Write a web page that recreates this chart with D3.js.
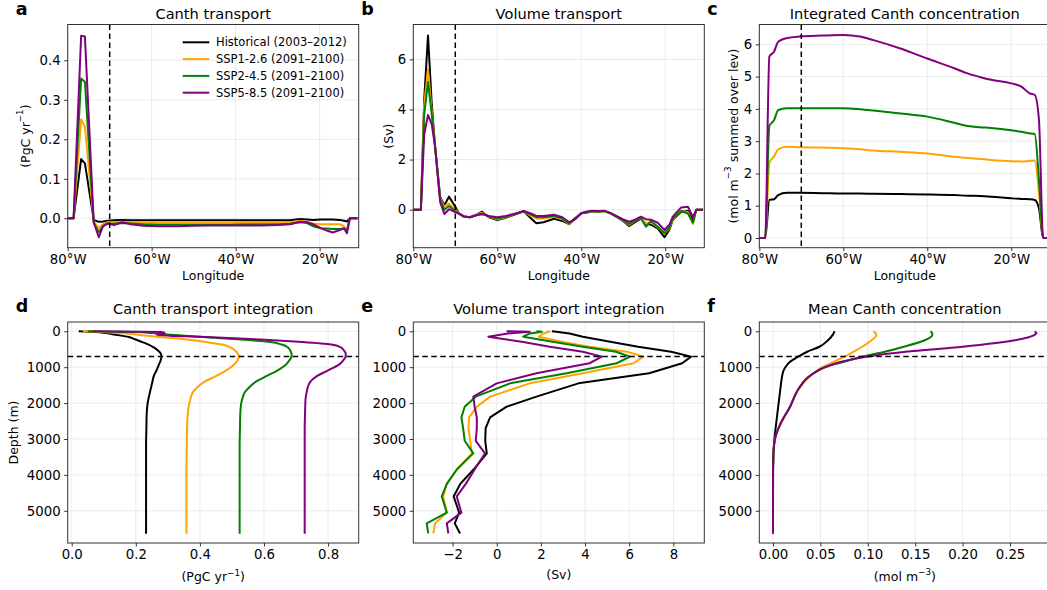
<!DOCTYPE html>
<html>
<head>
<meta charset="utf-8">
<script src="https://cdn.jsdelivr.net/npm/d3@7"></script>
<style>
  body { margin: 0; background: #fff; }
  text { font-family: "DejaVu Sans", sans-serif; }
</style>
</head>
<body>
<svg id="fig" width="1047" height="590"></svg>
<script>
// scenario names (legend)
const scenarios = ["Historical (2003–2012)", "SSP1-2.6 (2091–2100)", "SSP2-4.5 (2091–2100)", "SSP5-8.5 (2091–2100)"];

// a: Canth transport along the section (PgC/yr)
const lonA = [-80, -79, -78.6, -76.8, -75.9, -73.8, -72.6, -71.6, -70.5, -69, -67, -65, -62, -58, -54, -50, -46, -42, -38, -34, -30, -27, -24.7, -23, -21.6, -19.7, -18.3, -16.9, -15.2, -14.2, -13.5, -12.8, -11];
const canthHist = [0, 0, 0, 0.15, 0.139, -0.004, -0.009, -0.008, -0.006, -0.005, -0.004, -0.005, -0.005, -0.005, -0.005, -0.005, -0.005, -0.005, -0.005, -0.005, -0.005, -0.005, -0.002, -0.003, -0.004, -0.003, -0.003, -0.003, -0.004, -0.006, -0.008, 0, 0];
const canth126 = [0, 0, 0, 0.251, 0.232, -0.008, -0.025, -0.015, -0.01, -0.01, -0.009, -0.01, -0.011, -0.011, -0.011, -0.011, -0.011, -0.011, -0.01, -0.01, -0.01, -0.01, -0.006, -0.009, -0.013, -0.015, -0.015, -0.015, -0.015, -0.02, -0.033, 0, 0];
const canth245 = [0, 0, 0, 0.354, 0.345, -0.012, -0.035, -0.02, -0.014, -0.014, -0.012, -0.013, -0.015, -0.016, -0.016, -0.016, -0.016, -0.016, -0.015, -0.015, -0.015, -0.014, -0.01, -0.012, -0.02, -0.025, -0.026, -0.027, -0.027, -0.026, -0.03, 0, 0];
const canth585 = [0, 0, 0, 0.462, 0.46, -0.01, -0.048, -0.02, -0.013, -0.017, -0.01, -0.015, -0.019, -0.02, -0.02, -0.019, -0.018, -0.018, -0.018, -0.018, -0.017, -0.015, -0.0085, -0.01, -0.015, -0.025, -0.031, -0.036, -0.03, -0.025, -0.038, 0, 0];

// b: volume transport (Sv)
const lonB = [-80, -78.2, -77.4, -76.5, -75.6, -74.8, -73.6, -72.6, -71.5, -70, -69.2, -68, -66.5, -65, -63.6, -62, -60, -58, -55.5, -53.7, -52, -50.7, -49, -46.5, -44.5, -42.9, -41.5, -40, -38.9, -37.3, -36, -34.5, -32.9, -30.1, -28.6, -27.2, -25.8, -24.6, -23.4, -21.8, -20.2, -19, -18.2, -16.2, -14.6, -13.4, -12.6, -11];
const volHist = [0, 0, 4.4, 6.95, 4.2, 2.5, 0.5, 0.18, 0.52, 0.12, -0.14, -0.28, -0.3, -0.2, -0.08, -0.3, -0.41, -0.32, -0.17, -0.06, -0.34, -0.54, -0.5, -0.36, -0.45, -0.58, -0.34, -0.14, -0.12, -0.06, -0.08, -0.05, -0.16, -0.44, -0.65, -0.5, -0.36, -0.55, -0.6, -0.75, -1.1, -0.8, -0.4, -0.08, -0.04, -0.38, 0, 0];
const vol126 = [0, 0, 4.2, 5.6, 3.9, 2.5, 0.45, 0.12, 0.25, 0.0, -0.14, -0.27, -0.3, -0.2, -0.12, -0.28, -0.38, -0.3, -0.15, -0.06, -0.25, -0.35, -0.35, -0.28, -0.38, -0.57, -0.38, -0.14, -0.1, -0.05, -0.07, -0.05, -0.15, -0.42, -0.6, -0.45, -0.33, -0.55, -0.5, -0.7, -0.95, -0.75, -0.37, -0.04, -0.1, -0.57, 0, 0];
const vol245 = [0, 0, 3.8, 5.1, 3.8, 2.5, 0.4, 0.0, 0.15, -0.05, -0.15, -0.27, -0.3, -0.22, -0.15, -0.27, -0.35, -0.28, -0.15, -0.06, -0.2, -0.3, -0.3, -0.25, -0.35, -0.55, -0.38, -0.14, -0.1, -0.05, -0.07, -0.05, -0.15, -0.42, -0.57, -0.45, -0.33, -0.68, -0.45, -0.68, -0.94, -0.72, -0.35, -0.05, -0.15, -0.52, 0, 0];
const vol585 = [0, 0, 3.0, 3.78, 3.4, 2.5, 0.3, -0.17, 0.02, -0.1, -0.16, -0.26, -0.3, -0.22, -0.18, -0.25, -0.3, -0.25, -0.15, -0.05, -0.15, -0.25, -0.25, -0.2, -0.3, -0.5, -0.38, -0.14, -0.08, -0.04, -0.05, -0.04, -0.15, -0.38, -0.48, -0.4, -0.28, -0.38, -0.4, -0.52, -0.81, -0.6, -0.28, 0.09, 0.12, -0.3, 0, 0];

// c: integrated Canth concentration
const lonC = [-80, -78.6, -77.6, -76.5, -75.5, -73.5, -70.3, -65, -60, -56, -52.8, -46.4, -40, -33.6, -30.4, -27.5, -24.8, -20, -17.6, -15.6, -14.4, -13.4, -12.4, -11];
const intHist = [0, 0, 1.18, 1.2, 1.33, 1.4, 1.4, 1.39, 1.38, 1.38, 1.37, 1.36, 1.35, 1.33, 1.31, 1.3, 1.28, 1.23, 1.21, 1.2, 1.18, 0.92, 0, 0];
const int126 = [0, 0, 2.33, 2.52, 2.75, 2.83, 2.81, 2.8, 2.78, 2.75, 2.71, 2.67, 2.62, 2.52, 2.48, 2.45, 2.42, 2.38, 2.37, 2.39, 2.4, 1.4, 0, 0];
const int245 = [0, 0, 3.47, 3.65, 3.96, 4.02, 4.02, 4.02, 4.02, 3.99, 3.95, 3.86, 3.76, 3.57, 3.47, 3.43, 3.41, 3.34, 3.29, 3.24, 3.22, 1.8, 0, 0];
const int585 = [0, 0, 5.62, 5.77, 6.08, 6.19, 6.24, 6.27, 6.29, 6.24, 6.13, 5.87, 5.56, 5.26, 5.1, 4.99, 4.9, 4.79, 4.69, 4.48, 4.43, 3.66, 0, 0];

// d: Canth transport integrated over depth
const depthD = [0, 20, 50, 100, 160, 230, 300, 370, 450, 540, 620, 700, 800, 930, 1100, 1250, 1400, 1550, 1700, 1860, 2000, 2300, 2700, 3200, 4000, 5000, 5640];
const cumHist = [0.022, 0.075, 0.105, 0.14, 0.178, 0.2, 0.22, 0.24, 0.256, 0.27, 0.278, 0.28, 0.278, 0.272, 0.264, 0.256, 0.252, 0.248, 0.244, 0.24, 0.237, 0.234, 0.233, 0.232, 0.232, 0.232, 0.232];
const cum126 = [0.035, 0.09, 0.15, 0.21, 0.275, 0.36, 0.42, 0.47, 0.495, 0.511, 0.518, 0.522, 0.518, 0.506, 0.48, 0.45, 0.415, 0.393, 0.378, 0.371, 0.367, 0.362, 0.36, 0.359, 0.358, 0.358, 0.358];
const cum245 = [0.05, 0.2, 0.25, 0.32, 0.41, 0.53, 0.62, 0.655, 0.675, 0.682, 0.686, 0.686, 0.68, 0.668, 0.64, 0.607, 0.575, 0.555, 0.54, 0.533, 0.529, 0.526, 0.525, 0.524, 0.524, 0.524, 0.524];
const cum585 = [0.065, 0.28, 0.29, 0.265, 0.42, 0.59, 0.72, 0.81, 0.84, 0.85, 0.855, 0.855, 0.848, 0.834, 0.797, 0.765, 0.745, 0.737, 0.733, 0.73, 0.729, 0.728, 0.727, 0.727, 0.727, 0.727, 0.727];

// e: volume transport integrated over depth
const depthE = [0, 10, 60, 150, 300, 430, 570, 705, 890, 1170, 1450, 1820, 2100, 2400, 2700, 3050, 3400, 3850, 4250, 4600, 5050, 5350, 5630];
const trHist = [2.5, 2.7, 3.3, 3.9, 5.2, 6.4, 7.9, 8.8, 8.4, 6.9, 3.7, 1.8, 0.45, -0.3, -0.5, -0.52, -0.45, -1.05, -1.65, -1.95, -1.7, -1.9, -1.66];
const tr126 = [2.26, 2.4, 2.1, 1.9, 3.0, 4.2, 5.9, 6.64, 6.2, 3.9, 1.5, -0.3, -0.9, -1.25, -1.28, -1.2, -1.13, -1.8, -2.26, -2.42, -2.26, -2.79, -2.87];
const tr245 = [1.8, 2.04, 1.5, 1.2, 2.6, 3.9, 5.4, 6.04, 5.43, 3.17, 0.6, -0.95, -1.45, -1.6, -1.52, -1.45, -1.06, -1.81, -2.26, -2.49, -2.26, -3.17, -3.1];
const tr585 = [0.45, 1.5, 0.5, -0.38, 1.2, 2.4, 3.9, 4.76, 4.2, 1.8, 0, -1.06, -1.0, -0.9, -0.9, -0.95, -0.53, -1.0, -1.4, -1.81, -1.6, -2.26, -2.19];

// f: mean Canth concentration profile
const depthF = [0, 50, 100, 250, 430, 570, 700, 850, 1000, 1100, 1300, 1600, 2100, 2600, 3000, 3500, 4000, 5000, 5640];
const concHist = [0.065, 0.064, 0.063, 0.058, 0.049, 0.036, 0.027, 0.018, 0.013, 0.011, 0.0093, 0.0078, 0.0055, 0.0032, 0.0015, 0.0004, 0.0001, 0, 0];
const conc126 = [0.106, 0.108, 0.109, 0.104, 0.094, 0.085, 0.076, 0.064, 0.052, 0.046, 0.037, 0.0275, 0.018, 0.0078, 0.0022, 0.0003, 0, 0, 0];
const conc245 = [0.166, 0.168, 0.168, 0.16, 0.138, 0.118, 0.095, 0.075, 0.055, 0.047, 0.036, 0.027, 0.018, 0.0074, 0.002, 0.0003, 0, 0, 0];
const conc585 = [0.276, 0.278, 0.276, 0.255, 0.2, 0.14, 0.1, 0.072, 0.055, 0.047, 0.036, 0.027, 0.018, 0.0074, 0.002, 0.0003, 0, 0, 0];

// tick values
const lonTicks = [-80, -60, -40, -20];
const depthTicks = [0, 1000, 2000, 3000, 4000, 5000];

const colors = ["#000000", "#ffa500", "#008000", "#800080"];
const svg = d3.select("#fig");
const W = 291;
const cols = [67.7, 413.3, 759.3];
const upperRow = { top: 24.5, h: 223.2 };
const lowerRow = { top: 322, h: 221 };
const lonFmt = d => Math.abs(d) + "°W";

function rich(sel, parts, size) {
  parts.forEach(([t, sup], i) => {
    const ts = sel.append("tspan").text(t);
    if (sup) ts.attr("font-size", size * 0.7).attr("dy", -size * 0.42);
    else if (i > 0 && parts[i - 1][1]) ts.attr("dy", size * 0.42);
  });
}

function drawPanel(o) {
  const g = svg.append("g").attr("transform", `translate(${o.left},${o.top})`);
  const x = d3.scaleLinear().domain(o.xDomain).range([0, W]);
  const y = d3.scaleLinear().domain(o.yDomain).range([o.h, 0]);

  // grid
  g.append("g").selectAll("line").data(o.xTicks).join("line")
    .attr("x1", d => x(d)).attr("x2", d => x(d)).attr("y1", 0).attr("y2", o.h)
    .attr("stroke", "#e9e9e9").attr("stroke-width", 0.9);
  g.append("g").selectAll("line").data(o.yTicks).join("line")
    .attr("y1", d => y(d)).attr("y2", d => y(d)).attr("x1", 0).attr("x2", W)
    .attr("stroke", "#e9e9e9").attr("stroke-width", 0.9);

  g.append("clipPath").attr("id", "clip-" + o.letter)
    .append("rect").attr("width", W).attr("height", o.h);
  const plot = g.append("g").attr("clip-path", `url(#clip-${o.letter})`);

  const line = o.vertical
    ? d3.line().x(d => x(d[1])).y(d => y(d[0])).curve(o.curve)
    : d3.line().x(d => x(d[0])).y(d => y(d[1])).curve(o.curve);
  o.series.forEach((s, i) => {
    plot.append("path")
      .attr("d", line(o.coord.map((c, k) => [c, s[k]])))
      .attr("fill", "none").attr("stroke", colors[i]).attr("stroke-width", 2)
      .attr("stroke-linejoin", "round");
  });

  if (o.vline != null) {
    plot.append("line").attr("x1", x(o.vline)).attr("x2", x(o.vline)).attr("y1", 0).attr("y2", o.h)
      .attr("stroke", "#000").attr("stroke-width", 1.5).attr("stroke-dasharray", "5.5,3.5");
  }
  if (o.hline != null) {
    plot.append("line").attr("y1", y(o.hline)).attr("y2", y(o.hline)).attr("x1", 0).attr("x2", W)
      .attr("stroke", "#000").attr("stroke-width", 1.5).attr("stroke-dasharray", "5.5,3.5");
  }

  g.append("rect").attr("width", W).attr("height", o.h)
    .attr("fill", "none").attr("stroke", "#333").attr("stroke-width", 1);

  const xa = g.append("g").attr("transform", `translate(0,${o.h})`)
    .call(d3.axisBottom(x).tickValues(o.xTicks).tickFormat(o.xFmt).tickSize(3.5).tickPadding(3.5));
  const ya = g.append("g")
    .call(d3.axisLeft(y).tickValues(o.yTicks).tickFormat(o.yFmt).tickSize(3.5).tickPadding(3.5));
  [xa, ya].forEach(a => {
    a.select(".domain").remove();
    a.selectAll("line").attr("stroke", "#333");
    a.selectAll("text").attr("font-size", 13.3).attr("font-family", "DejaVu Sans, sans-serif").attr("fill", "#000");
  });

  g.append("text").attr("x", W / 2).attr("y", o.titleY)
    .attr("text-anchor", "middle").attr("font-size", 14.6).text(o.title);
  g.append("text").attr("x", -52).attr("y", o.letterY)
    .attr("font-size", 17.5).attr("font-weight", "bold").text(o.letter);

  const xl = g.append("text").attr("x", W / 2).attr("y", o.h + o.xLabelDy)
    .attr("text-anchor", "middle").attr("font-size", 12.5);
  rich(xl, o.xLabel, 12.5);
  if (o.yLabel) {
    const yl = g.append("text")
      .attr("transform", `translate(${o.yLabelDx},${o.h / 2}) rotate(-90)`)
      .attr("text-anchor", "middle").attr("dominant-baseline", "central").attr("font-size", 12.5);
    rich(yl, o.yLabel, 12.5);
  }
  return { g, x, y };
}

const pa = drawPanel({
  left: cols[0], top: upperRow.top, h: upperRow.h, letter: "a", title: "Canth transport",
  xDomain: [-80, -10.7], yDomain: [-0.0744, 0.4906], coord: lonA,
  series: [canthHist, canth126, canth245, canth585], curve: d3.curveLinear,
  xTicks: lonTicks, yTicks: [0, 0.1, 0.2, 0.3, 0.4], xFmt: lonFmt, yFmt: d3.format(".1f"),
  vline: -70, titleY: -6, letterY: -9.5, xLabelDy: 32, yLabelDx: -42.7,
  xLabel: [["Longitude", 0]], yLabel: [["(PgC yr", 0], ["−1", 1], [")", 0]]
});

// legend
const leg = pa.g.append("g");
scenarios.forEach((name, i) => {
  const yy = 17.8 + i * 16.8;
  leg.append("line").attr("x1", 115).attr("x2", 141.6).attr("y1", yy).attr("y2", yy)
    .attr("stroke", colors[i]).attr("stroke-width", 2);
  leg.append("text").attr("x", 148.3).attr("y", yy).attr("dominant-baseline", "central")
    .attr("font-size", 11.5).text(name);
});

drawPanel({
  left: cols[1], top: upperRow.top, h: upperRow.h, letter: "b", title: "Volume transport",
  xDomain: [-80, -10.7], yDomain: [-1.517, 7.39], coord: lonB,
  series: [volHist, vol126, vol245, vol585], curve: d3.curveLinear,
  xTicks: lonTicks, yTicks: [0, 2, 4, 6], xFmt: lonFmt, yFmt: d3.format("d"),
  vline: -70, titleY: -6, letterY: -9.5, xLabelDy: 32, yLabelDx: -25.3,
  xLabel: [["Longitude", 0]], yLabel: [["(Sv)", 0]]
});

drawPanel({
  left: cols[2], top: upperRow.top, h: upperRow.h, letter: "c", title: "Integrated Canth concentration",
  xDomain: [-80, -10.7], yDomain: [-0.3005, 6.614], coord: lonC,
  series: [intHist, int126, int245, int585], curve: d3.curveMonotoneX,
  xTicks: lonTicks, yTicks: [0, 1, 2, 3, 4, 5, 6], xFmt: lonFmt, yFmt: d3.format("d"),
  vline: -70, titleY: -6, letterY: -9.5, xLabelDy: 32, yLabelDx: -26.3,
  xLabel: [["Longitude", 0]], yLabel: [["(mol m", 0], ["−3", 1], [" summed over lev)", 0]]
});

const depthDomain = [5897, -259];

drawPanel({
  left: cols[0], top: lowerRow.top, h: lowerRow.h, letter: "d", title: "Canth transport integration",
  xDomain: [-0.0125, 0.8955], yDomain: depthDomain, coord: depthD, vertical: true,
  series: [cumHist, cum126, cum245, cum585], curve: d3.curveMonotoneY,
  xTicks: [0, 0.2, 0.4, 0.6, 0.8], yTicks: depthTicks, xFmt: d3.format(".1f"), yFmt: d3.format("d"),
  hline: 700, titleY: -8, letterY: -10.3, xLabelDy: 38, yLabelDx: -54.7,
  xLabel: [["(PgC yr", 0], ["−1", 1], [")", 0]], yLabel: [["Depth (m)", 0]]
});

drawPanel({
  left: cols[1], top: lowerRow.top, h: lowerRow.h, letter: "e", title: "Volume transport integration",
  xDomain: [-3.777, 9.40], yDomain: depthDomain, coord: depthE, vertical: true,
  series: [trHist, tr126, tr245, tr585], curve: d3.curveLinear,
  xTicks: [-2, 0, 2, 4, 6, 8], yTicks: depthTicks, xFmt: d3.format("d"), yFmt: d3.format("d"),
  hline: 700, titleY: -8, letterY: -10.3, xLabelDy: 35.5,
  xLabel: [["(Sv)", 0]]
});

drawPanel({
  left: cols[2], top: lowerRow.top, h: lowerRow.h, letter: "f", title: "Mean Canth concentration",
  xDomain: [-0.01445, 0.2925], yDomain: depthDomain, coord: depthF, vertical: true,
  series: [concHist, conc126, conc245, conc585], curve: d3.curveMonotoneY,
  xTicks: [0, 0.05, 0.1, 0.15, 0.2, 0.25], yTicks: depthTicks, xFmt: d3.format(".2f"), yFmt: d3.format("d"),
  hline: 700, titleY: -8, letterY: -10.3, xLabelDy: 37.5,
  xLabel: [["(mol m", 0], ["−3", 1], [")", 0]]
});
</script>
</body>
</html>
